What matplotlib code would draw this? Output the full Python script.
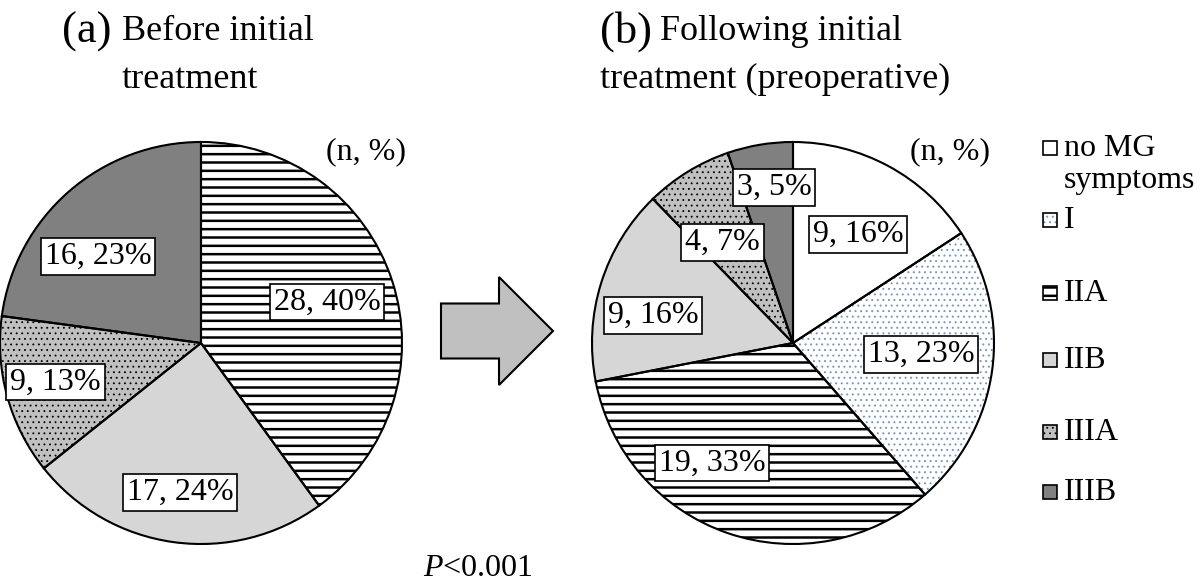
import numpy as np
import matplotlib
matplotlib.use('Agg')
import matplotlib.pyplot as plt
import matplotlib.patches as mpatches

plt.rcParams['font.family'] = ['Liberation Serif', 'DejaVu Serif']
plt.rcParams['mathtext.fontset'] = 'custom'
plt.rcParams['mathtext.rm'] = 'Liberation Serif'
plt.rcParams['mathtext.it'] = 'Liberation Serif:italic'
plt.rcParams['hatch.linewidth'] = 1.8

# data
classes = ['no MG\nsymptoms', 'I', 'IIA', 'IIB', 'IIIA', 'IIIB']
before_counts = [0, 0, 28, 17, 9, 16]
before_pct = [0, 0, 40, 24, 13, 23]
after_counts = [9, 13, 19, 9, 4, 3]
after_pct = [16, 23, 33, 16, 7, 5]
p_text = r'$P$<0.001'

# styles per class
face = ['white', 'white', 'white', '#d6d6d6', '#c0c0c0', '#808080']
hatch_col = ['white', '#7896bc', 'black', '#d6d6d6', 'black', '#808080']
hatches = [None, '...', '--', None, '...', None]
hatch_lw = [0, 0.7, 1.8, 0, 0.6, 0]

# label placement (angle deg, radius fraction) - layout only
lab_a = {2: (18, 0.66), 3: (-98, 0.75), 4: (-165, 0.75), 5: (140, 0.67)}
lab_b = {0: (59, 0.63), 1: (-5, 0.64), 2: (-124, 0.72), 3: (169, 0.71),
         4: (125, 0.61), 5: (97, 0.78)}

W, H = 1200, 584
fig = plt.figure(figsize=(12, 5.84), dpi=100)
ax = fig.add_axes([0, 0, 1, 1])

def Y(y):
    return H - y

def style_patch(p, i):
    p.set_edgecolor(hatch_col[i])
    if hatches[i]:
        p.set_hatch(hatches[i])
        if hasattr(p, 'set_hatch_linewidth'):
            p.set_hatch_linewidth(hatch_lw[i])

def draw_pie(center, radius, counts, pcts, labpos):
    idx = [i for i, c in enumerate(counts) if c > 0]
    vals = [counts[i] for i in idx]
    wedges, _ = ax.pie(vals, center=center, radius=radius, startangle=90,
                       counterclock=False, frame=True,
                       colors=[face[i] for i in idx],
                       wedgeprops=dict(linewidth=0))
    for w, i in zip(wedges, idx):
        style_patch(w, i)
    ax.pie(vals, center=center, radius=radius, startangle=90,
           counterclock=False, frame=True,
           wedgeprops=dict(facecolor='none', edgecolor='black', linewidth=1.5))
    for i in idx:
        ang, r = labpos[i]
        x = center[0] + r * radius * np.cos(np.radians(ang))
        y = center[1] + r * radius * np.sin(np.radians(ang))
        ax.text(x, y, f'{counts[i]}, {pcts[i]}%', fontsize=23, ha='center', va='center',
                bbox=dict(boxstyle='square,pad=0.12', fc='white', ec='black', lw=1.2))

draw_pie((201, Y(343)), 201, before_counts, before_pct, lab_a)
draw_pie((793, Y(343)), 201, after_counts, after_pct, lab_b)

# titles
ax.text(62, Y(32), '(a)', fontsize=32, va='center', ha='left')
ax.text(122, Y(32), 'Before initial', fontsize=26, va='center', ha='left')
ax.text(122, Y(79), 'treatment', fontsize=26, va='center', ha='left')
ax.text(600, Y(32), '(b)', fontsize=32, va='center', ha='left')
ax.text(660, Y(32), 'Following initial', fontsize=26, va='center', ha='left')
ax.text(600, Y(79), 'treatment (preoperative)', fontsize=26, va='center', ha='left')

ax.text(366, Y(152), '(n, %)', fontsize=23, ha='center', va='center')
ax.text(950, Y(152), '(n, %)', fontsize=23, ha='center', va='center')

# arrow
ax.add_patch(mpatches.FancyArrow(441, Y(331), 112, 0, width=55, head_width=108,
                                 head_length=54, length_includes_head=True,
                                 fc='#c0c0c0', ec='black', lw=1.5))

ax.text(478, Y(569), p_text, fontsize=23, ha='center', va='center')

# legend
leg_y = [148, 220, 293, 360, 432, 492]
for i, lab in enumerate(classes):
    yc = leg_y[i]
    sq = mpatches.Rectangle((1043, Y(yc) - 7), 14, 14, fc=face[i], lw=0)
    style_patch(sq, i)
    ax.add_patch(sq)
    ax.add_patch(mpatches.Rectangle((1043, Y(yc) - 7), 14, 14, fc='none', ec='black', lw=1.2))
    ax.text(1064, Y(yc) + 14, lab, fontsize=23, ha='left', va='top', linespacing=1.15)

ax.set_xlim(0, W)
ax.set_ylim(0, H)
ax.set_aspect('equal')
ax.axis('off')

fig.savefig('out.png', dpi=100, facecolor='white')
